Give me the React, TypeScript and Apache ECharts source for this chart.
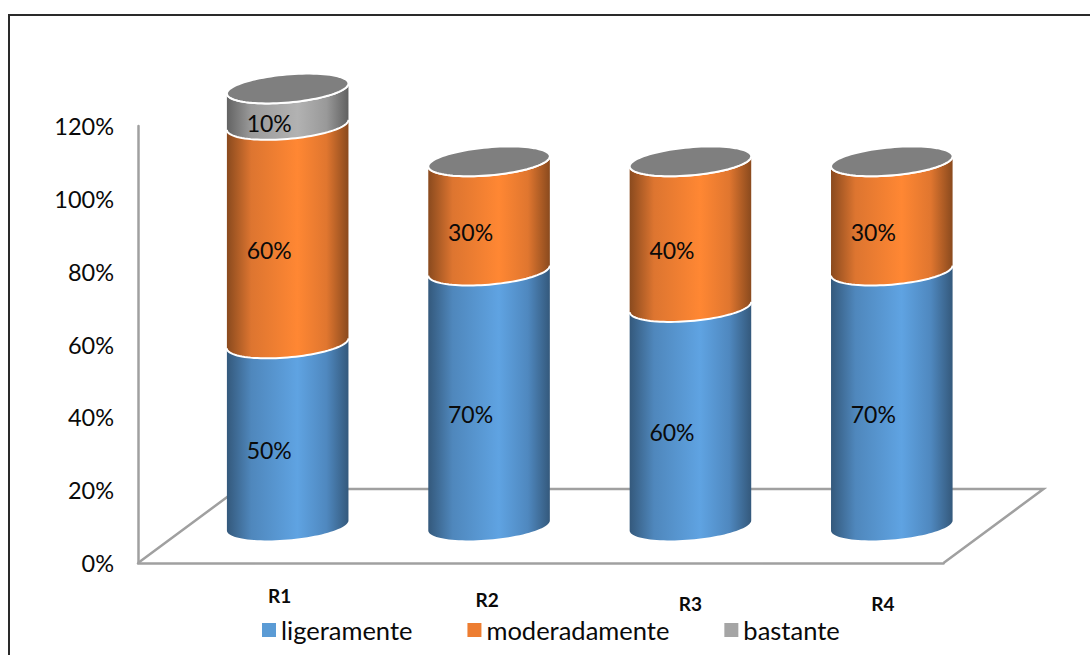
import React, { useEffect, useRef } from "react";
import * as echarts from "echarts";

const categories = ["R1", "R2", "R3", "R4"];
const ligeramente = [50, 70, 60, 70];
const moderadamente = [60, 30, 40, 30];
const bastante = [10, 0, 0, 0];
const yTicks = [0, 20, 40, 60, 80, 100, 120];

const FONT = "Lato, 'Open Sans', sans-serif";

// Projection of the bar cylinders onto the floor plane
const DEPTH_X = 100;
const DEPTH_Y = -74;
const OFF_X = 49;
const OFF_Y = -37.5;
const RX = 61;
const RY = 14;
const TILT = (-5 * Math.PI) / 180;

const ellipsePoint = (cx: number, cy: number, t: number): [number, number] => [
  cx + RX * Math.cos(t) * Math.cos(TILT) - RY * Math.sin(t) * Math.sin(TILT),
  cy + RX * Math.cos(t) * Math.sin(TILT) + RY * Math.sin(t) * Math.cos(TILT),
];

// Parameter of the ellipse's rightmost point; the leftmost is half a turn later
const T_RIGHT = Math.atan2(-RY * Math.sin(TILT), RX * Math.cos(TILT));

const frontArc = (cx: number, cy: number): [number, number][] => {
  const pts: [number, number][] = [];
  for (let i = 0; i <= 48; i++) {
    pts.push(ellipsePoint(cx, cy, T_RIGHT + (Math.PI * i) / 48));
  }
  return pts;
};

const fullRing = (cx: number, cy: number): [number, number][] => {
  const pts: [number, number][] = [];
  for (let i = 0; i < 96; i++) {
    pts.push(ellipsePoint(cx, cy, (Math.PI * 2 * i) / 96));
  }
  return pts;
};

const sideGradient = (stops: [number, string][]) =>
  new echarts.graphic.LinearGradient(
    0,
    0,
    1,
    0,
    stops.map(([offset, color]) => ({ offset, color })),
  );

const blueStops: [number, string][] = [
  [0, "#34597c"],
  [0.2, "#4f87bc"],
  [0.58, "#5fa3e2"],
  [0.82, "#4f88bf"],
  [1, "#34597c"],
];
const orangeStops: [number, string][] = [
  [0, "#8a4a1e"],
  [0.2, "#dd7530"],
  [0.58, "#ff8733"],
  [0.82, "#e0762f"],
  [1, "#8a4a1e"],
];
const grayStops: [number, string][] = [
  [0, "#636363"],
  [0.2, "#9a9a9a"],
  [0.58, "#b2b2b2"],
  [0.82, "#999999"],
  [1, "#606060"],
];

const stackOf = (seriesList: number[][], index: number) =>
  seriesList[index].map((v, c) => {
    let base = 0;
    for (let s = 0; s < index; s++) base += seriesList[s][c];
    return [c, v, base];
  });

const allSeries = [ligeramente, moderadamente, bastante];

const cylinderRenderer = (stops: [number, string][]) => (_p: any, api: any) => {
  const cat = api.value(0);
  const value = api.value(1);
  const base = api.value(2);
  if (!value) return { type: "group", children: [] };
  const [x0, y0] = api.coord([cat, base]);
  const [, y1] = api.coord([cat, base + value]);
  const cx = x0 + OFF_X;
  const yBottom = y0 + OFF_Y;
  const yTop = y1 + OFF_Y;

  const topArc = frontArc(cx, yTop);
  const bottomArc = frontArc(cx, yBottom);
  const outline = [...topArc, ...bottomArc.slice().reverse()];

  const total = allSeries.reduce((sum, s) => sum + s[cat], 0);
  const isTop = Math.abs(base + value - total) < 1e-6;

  const children: any[] = [
    {
      type: "polygon",
      shape: { points: outline },
      style: { fill: sideGradient(stops) },
      z2: 1,
    },
    {
      type: "polyline",
      shape: { points: topArc },
      style: { fill: "none", stroke: "#ffffff", lineWidth: 2 },
      z2: 5,
    },
    {
      type: "text",
      x: cx - 18.5,
      y: (yTop + yBottom) / 2 + 16,
      style: {
        text: `${value}%`,
        fill: "#0a0a0a",
        font: `23px ${FONT}`,
        align: "center",
        verticalAlign: "middle",
      },
      z2: 20,
    },
  ];
  if (isTop) {
    children.push({
      type: "polygon",
      shape: { points: fullRing(cx, yTop) },
      style: { fill: "#7f7f7f", stroke: "#ffffff", lineWidth: 2 },
      z2: 6,
    });
  }
  return { type: "group", children };
};

const floorRenderer = (_p: any, api: any) => {
  const [xLeft, yFront] = api.coord([0, 0]);
  const band = api.size([1, 0])[0];
  const left = xLeft - band / 2;
  const right = left + band * categories.length;
  return {
    type: "polyline",
    shape: {
      points: [
        [left, yFront],
        [left + DEPTH_X, yFront + DEPTH_Y],
        [right + DEPTH_X, yFront + DEPTH_Y],
        [right, yFront],
      ],
    },
    style: { fill: "none", stroke: "#a0a0a0", lineWidth: 2.5 },
  };
};

export default function App() {
  const ref = useRef<HTMLDivElement>(null);

  useEffect(() => {
    document.body.style.margin = "0";
    const chart = echarts.init(ref.current!, undefined, { renderer: "svg" });
    chart.setOption({
      animation: false,
      backgroundColor: "#ffffff",
      grid: { left: 138, right: 146.5, top: 126, bottom: 92 },
      graphic: [
        {
          type: "rect",
          silent: true,
          shape: { x: 9, y: 15, width: 1200, height: 800 },
          style: { fill: "none", stroke: "#2a2a2a", lineWidth: 2 },
        },
      ],
      legend: {
        data: ["ligeramente", "moderadamente", "bastante"],
        left: 257,
        top: 612,
        icon: "rect",
        itemWidth: 14,
        itemHeight: 14,
        itemGap: 55,
        textStyle: { fontFamily: FONT, fontSize: 25.5, color: "#0a0a0a" },
      },
      xAxis: {
        type: "category",
        data: [
          { value: categories[0], textStyle: { padding: [0, 0, 0, 82] } },
          { value: categories[1], textStyle: { padding: [4, 0, 0, 94] } },
          { value: categories[2], textStyle: { padding: [8, 0, 0, 98] } },
          { value: categories[3], textStyle: { padding: [8, 0, 0, 80] } },
        ],
        axisLine: { show: true, lineStyle: { color: "#a0a0a0", width: 2.5 } },
        axisTick: { show: false },
        splitLine: { show: false },
        axisLabel: {
          margin: 23,
          fontFamily: FONT,
          fontSize: 19,
          fontWeight: "bold",
          color: "#0a0a0a",
        },
      },
      yAxis: {
        type: "value",
        min: yTicks[0],
        max: yTicks[yTicks.length - 1],
        interval: 20,
        axisLine: { show: true, lineStyle: { color: "#a0a0a0", width: 2.5 } },
        axisTick: { show: false },
        splitLine: { show: false },
        axisLabel: {
          margin: 24,
          fontFamily: FONT,
          fontSize: 23.5,
          color: "#0a0a0a",
          padding: [6, 0, 0, 0],
          formatter: "{value}%",
        },
      },
      series: [
        {
          type: "custom",
          name: "suelo",
          silent: true,
          z: 1,
          coordinateSystem: "cartesian2d",
          data: [[0, 0]],
          renderItem: floorRenderer,
          clip: false,
        },
        {
          type: "custom",
          name: "ligeramente",
          z: 2,
          itemStyle: { color: "#5b9bd5" },
          data: stackOf(allSeries, 0),
          encode: { x: 0, y: 1 },
          renderItem: cylinderRenderer(blueStops),
          clip: false,
        },
        {
          type: "custom",
          name: "moderadamente",
          z: 2,
          itemStyle: { color: "#ed7d31" },
          data: stackOf(allSeries, 1),
          encode: { x: 0, y: 1 },
          renderItem: cylinderRenderer(orangeStops),
          clip: false,
        },
        {
          type: "custom",
          name: "bastante",
          z: 2,
          itemStyle: { color: "#a5a5a5" },
          data: stackOf(allSeries, 2),
          encode: { x: 0, y: 1 },
          renderItem: cylinderRenderer(grayStops),
          clip: false,
        },
      ],
    });
    return () => chart.dispose();
  }, []);

  return <div ref={ref} style={{ width: 1090, height: 655 }} />;
}
